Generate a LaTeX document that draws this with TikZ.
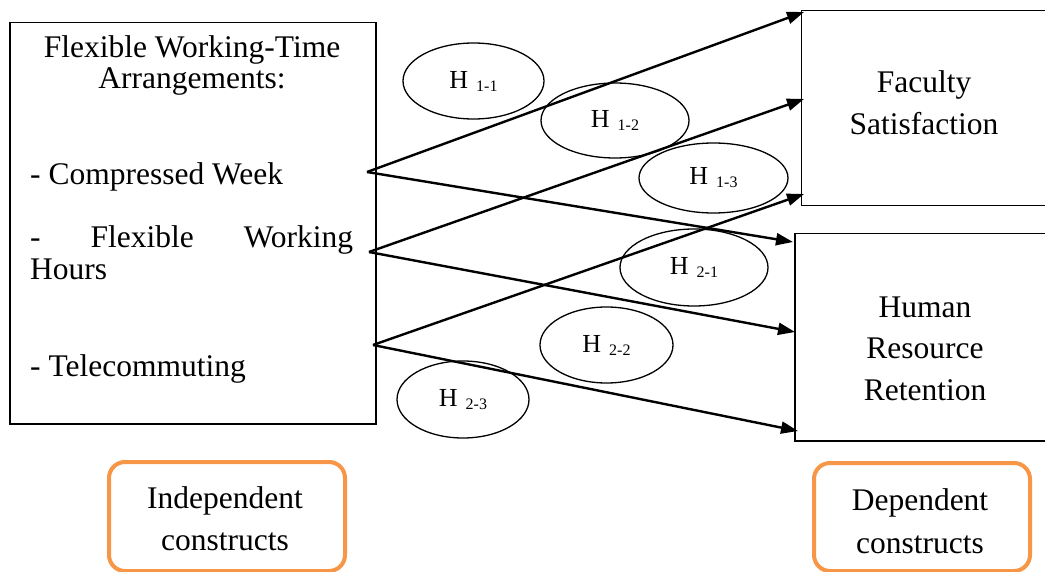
\documentclass[tikz,border=0pt]{standalone}
\usepackage{fontspec}
\setmainfont{Liberation Serif}
\usetikzlibrary{arrows.meta,shapes.geometric}
\definecolor{accorange}{HTML}{F79646}
\newcommand{\hyplabel}[1]{H\hspace{8pt}{\fontsize{16}{17}\selectfont\raisebox{-3pt}{#1}}}
\begin{document}
\begin{tikzpicture}[x=1pt,y=-1pt,
  box/.style={draw, line width=1.5pt, inner sep=0pt},
  hyp/.style={draw, ellipse, line width=1.3pt, inner sep=0pt, font=\fontsize{26}{28}\selectfont},
  conn/.style={line width=2.4pt, -{Triangle[length=17pt,width=12pt]}},
  construct/.style={draw=accorange, line width=4pt, rounded corners=16pt, inner sep=0pt},
  txt/.style={inner sep=0pt, font=\fontsize{31.5}{33}\selectfont},
]
\useasboundingbox (0,0) rectangle (1045,572);
\clip (0,0) rectangle (1045,572);

% boxes
\node[box, minimum width=366pt, minimum height=401pt, anchor=north west] (fwta) at (9,22) {};
\node[box, minimum width=250pt, minimum height=195pt, anchor=north west] (fac) at (800.5,10) {};
\node[box, minimum width=257pt, minimum height=207pt, anchor=north west] (hrr) at (794,233) {};
\node[construct, minimum width=236pt, minimum height=109pt, anchor=north west] (indc) at (107,460) {};
\node[construct, minimum width=216pt, minimum height=108pt, anchor=north west] (depc) at (812,461) {};

% left box text
\node[txt, anchor=base] (t1) at (192,58) {Flexible Working-Time};
\node[txt, anchor=base] (t2) at (192,89) {Arrangements:};
\node[txt, anchor=base west] (t3) at (30,185) {- Compressed Week};
\node[txt, anchor=base west] (t4) at (30,248) {\makebox[323pt]{-\hfill Flexible\hfill Working}};
\node[txt, anchor=base west] (t5) at (30,280) {Hours};
\node[txt, anchor=base west] (t6) at (30,377) {- Telecommuting};

% right box text
\node[txt, anchor=base] (f1) at (924,93) {Faculty};
\node[txt, anchor=base] (f2) at (924,135) {Satisfaction};
\node[txt, anchor=base] (r1) at (925,317) {Human};
\node[txt, anchor=base] (r2) at (925,358) {Resource};
\node[txt, anchor=base] (r3) at (925,400) {Retention};

% construct labels
\node[txt, anchor=base] (i1) at (225,508) {Independent};
\node[txt, anchor=base] (i2) at (225,550) {constructs};
\node[txt, anchor=base] (d1) at (920,510) {Dependent};
\node[txt, anchor=base] (d2) at (920,553) {constructs};

% connector end points
\coordinate (s1) at (367,172);
\coordinate (s2) at (369,252);
\coordinate (s3) at (373,345);
\coordinate (e11) at (804,12);
\coordinate (e12) at (804,99);
\coordinate (e13) at (804,194);
\coordinate (e21) at (793,242);
\coordinate (e22) at (795,332);
\coordinate (e23) at (798,431);

\draw[conn] (s1) -- (e11);
\draw[conn] (s1) -- (e21);
\draw[conn] (s2) -- (e12);
\draw[conn] (s2) -- (e22);
\draw[conn] (s3) -- (e13);
\draw[conn] (s3) -- (e23);

% hypotheses
\node[hyp, minimum width=141pt, minimum height=76pt] (h11) at (473.5,81) {\hyplabel{1-1}};
\node[hyp, minimum width=148pt, minimum height=75pt] (h12) at (615,120.5) {\hyplabel{1-2}};
\node[hyp, minimum width=149pt, minimum height=70pt] (h13) at (713.5,178) {\hyplabel{1-3}};
\node[hyp, minimum width=148pt, minimum height=77pt] (h21) at (694,267.5) {\hyplabel{2-1}};
\node[hyp, minimum width=133pt, minimum height=76pt] (h22) at (606.5,345) {\hyplabel{2-2}};
\node[hyp, minimum width=132pt, minimum height=77pt] (h23) at (463,399.5) {\hyplabel{2-3}};
\end{tikzpicture}
\end{document}
